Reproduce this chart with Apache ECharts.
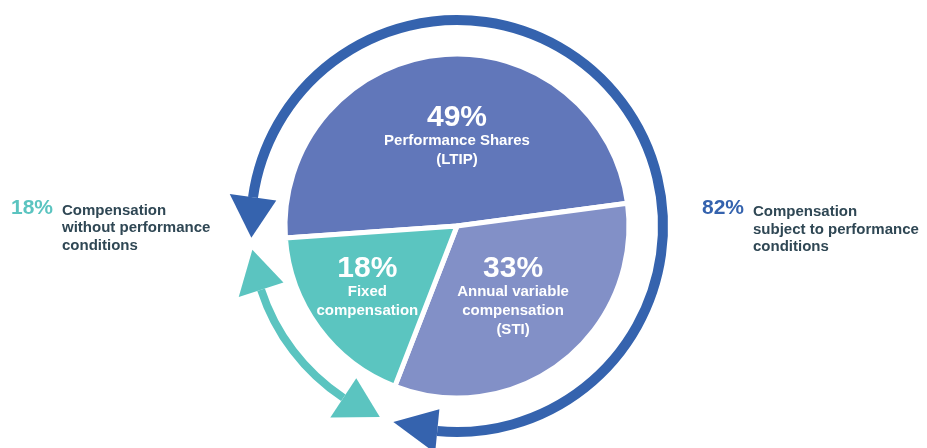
<!DOCTYPE html>
<html>
<head>
<meta charset="utf-8">
<script src="https://cdn.jsdelivr.net/npm/echarts@6/dist/echarts.min.js"></script>
<style>
  html, body { margin: 0; padding: 0; background: #fff; }
  #main { width: 927px; height: 448px; }
</style>
</head>
<body>
<div id="main"></div>
<script>
let myChart = echarts.init(document.getElementById("main"));

// data
let sliceNames = ["Performance Shares\n(LTIP)", "Annual variable\ncompensation\n(STI)", "Fixed\ncompensation"];
let sliceValues = [49, 33, 18];
let sliceColors = ["#6177ba", "#8290c7", "#5bc5c0"];
let sideValues = [18, 82];
let sideTexts = ["Compensation\nwithout performance\nconditions", "Compensation\nsubject to performance\nconditions"];

// little nudges for the labels inside the slices
let labelNudge = [[9, -1], [1, 1], [-18, 9]];

let cx = 457;
let cy = 226;
let ringR = 206;
let darkBlue = "#3563ae";
let teal = "#5bc4c0";
let textColor = "#2f4754";
let font = "'Liberation Sans', Arial, sans-serif";

function deg(a) {
  return (a * Math.PI) / 180;
}
function pt(r, a) {
  return [cx + r * Math.cos(deg(a)), cy + r * Math.sin(deg(a))];
}
// arrow head: base sits on the ring at angle baseA, tip at angle tipA
function arrowHead(baseA, tipA, hw, color) {
  return {
    type: "polygon",
    shape: { points: [pt(ringR - hw, baseA), pt(ringR + hw, baseA), pt(ringR, tipA)] },
    style: { fill: color },
    z: 10,
  };
}

let pieData = [];
for (let i = 0; i < sliceValues.length; i++) {
  pieData.push({
    value: sliceValues[i],
    name: sliceNames[i],
    itemStyle: { color: sliceColors[i] },
  });
}

let option = {
  animation: false,
  series: [
    {
      type: "pie",
      center: [cx, cy],
      radius: [0, 172],
      startAngle: 184,
      clockwise: true,
      silent: true,
      itemStyle: { borderColor: "#fff", borderWidth: 5 },
      label: {
        show: true,
        position: "inside",
        formatter: function (p) {
          let lines = p.name.split("\n").map((s) => `{t|${s}}`);
          return `{p|${p.value}%}\n` + lines.join("\n");
        },
        rich: {
          p: { fontFamily: font, fontWeight: "bold", fontSize: 30, color: "#fff", lineHeight: 28 },
          t: { fontFamily: font, fontWeight: "bold", fontSize: 15, color: "#fff", lineHeight: 19 },
        },
      },
      labelLine: { show: false },
      labelLayout: function (params) {
        let n = labelNudge[params.dataIndex];
        return { dx: n[0], dy: n[1] };
      },
      data: pieData,
    },
  ],
  graphic: [
    {
      type: "arc",
      shape: { cx: cx, cy: cy, r: ringR, startAngle: deg(-172), endAngle: deg(95.5), clockwise: true },
      style: { stroke: darkBlue, lineWidth: 10, fill: null },
      z: 5,
    },
    arrowHead(-172, -183.3, 23.5, darkBlue),
    arrowHead(95.5, 108, 22, darkBlue),
    {
      type: "arc",
      shape: { cx: cx, cy: cy, r: ringR, startAngle: deg(123.5), endAngle: deg(162), clockwise: true },
      style: { stroke: teal, lineWidth: 8, fill: null },
      z: 5,
    },
    arrowHead(162, 173.4, 23.5, teal),
    arrowHead(123.5, 112, 23.5, teal),
    {
      type: "text",
      x: 11,
      y: 208,
      style: {
        text: `${sideValues[0]}%`,
        fill: teal,
        font: `bold 21px ${font}`,
        verticalAlign: "middle",
      },
    },
    {
      type: "text",
      x: 62,
      y: 202,
      style: {
        text: sideTexts[0],
        fill: textColor,
        font: `bold 15px ${font}`,
        lineHeight: 17.5,
        verticalAlign: "top",
      },
    },
    {
      type: "text",
      x: 702,
      y: 208,
      style: {
        text: `${sideValues[1]}%`,
        fill: darkBlue,
        font: `bold 21px ${font}`,
        verticalAlign: "middle",
      },
    },
    {
      type: "text",
      x: 753,
      y: 203.5,
      style: {
        text: sideTexts[1],
        fill: textColor,
        font: `bold 15px ${font}`,
        lineHeight: 17.5,
        verticalAlign: "top",
      },
    },
  ],
};

myChart.setOption(option);
</script>
</body>
</html>
